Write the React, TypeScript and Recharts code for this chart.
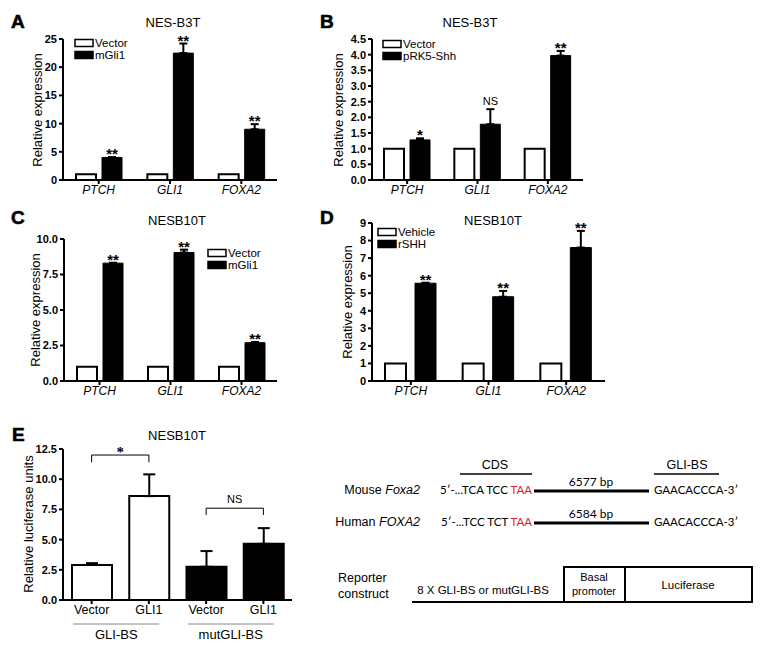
import React from 'react'
import { Bar, BarChart, Cell, ErrorBar, LabelList, ReferenceLine, XAxis, YAxis } from 'recharts'

const FONT = '"Liberation Sans", Arial, Helvetica, sans-serif'
const SEQ_FONT = 'Lato, "Open Sans", sans-serif'

const genes = ['PTCH', 'GLI1', 'FOXA2']

// panel A: NES-B3T, mGli1
const aVector = [1, 1, 1]
const aTreat = [4.0, 22.5, 9.0]
const aErr = [0.05, 1.7, 0.9]
const aSig = ['**', '**', '**']
const aTicks = [0, 5, 10, 15, 20, 25]

// panel B: NES-B3T, pRK5-Shh
const bVector = [1, 1, 1]
const bTreat = [1.28, 1.78, 3.97]
const bErr = [0.05, 0.48, 0.15]
const bSig = ['*', 'NS', '**']
const bTicks = [0, 0.5, 1, 1.5, 2, 2.5, 3, 3.5, 4, 4.5]

// panel C: NESB10T, mGli1
const cVector = [1, 1, 1]
const cTreat = [8.3, 9.05, 2.7]
const cErr = [0.03, 0.2, 0.05]
const cSig = ['**', '**', '**']
const cTicks = [0, 2.5, 5, 7.5, 10]

// panel D: NESB10T, rSHH
const dVehicle = [1, 1, 1]
const dTreat = [5.57, 4.8, 7.6]
const dErr = [0.03, 0.33, 0.95]
const dSig = ['**', '**', '**']
const dTicks = [0, 1, 2, 3, 4, 5, 6, 7, 8, 9]

// panel E: luciferase
const eIds = ['gv', 'gg', 'mv', 'mg']
const eNames = ['Vector', 'GLI1', 'Vector', 'GLI1']
const eGroups = ['GLI-BS', 'GLI-BS', 'mutGLI-BS', 'mutGLI-BS']
const eValues = [2.9, 8.6, 2.75, 4.65]
const eErr = [0.15, 1.8, 1.3, 1.3]
const eFilled = [false, false, true, true]
const eTicks = [0, 2.5, 5, 7.5, 10, 12.5]

const fmt1 = (v: number) => v.toFixed(1)

const axisLine = { stroke: '#000', strokeWidth: 2 }
const yTick = { fill: '#000', fontSize: 11, fontWeight: 'bold', fontFamily: FONT }
const xTick = { fill: '#000', fontSize: 12, fontStyle: 'italic', fontFamily: FONT }

const sigContent = (vals: number[], errs: number[], sigs: string[]) => (props: any) => {
  const vb = props.viewBox ?? props
  const i = props.index
  if (i == null || !sigs[i]) return null
  const top = Math.min(vb.y, vb.y + vb.height)
  const h = Math.abs(vb.height)
  const errPx = vals[i] ? (errs[i] * h) / vals[i] : 0
  const ns = sigs[i] === 'NS'
  return (
    <text
      x={vb.x + vb.width / 2}
      y={top - errPx + (ns ? -4 : 2)}
      textAnchor="middle"
      fontSize={ns ? 11 : 15}
      fontWeight={ns ? 'normal' : 'bold'}
      fontFamily={FONT}
    >
      {sigs[i]}
    </text>
  )
}

type PanelProps = {
  left: number
  top: number
  width: number
  height: number
  margin: { top: number; right: number; bottom: number; left: number }
  yWidth: number
  xHeight: number
  max: number
  ticks: number[]
  fmt?: (v: number) => string
  ctrl: number[]
  treat: number[]
  err: number[]
  sig: string[]
  barSize: number
  barGap: number
}

function ExprPanel(p: PanelProps) {
  const data = genes.map((g, i) => ({ gene: g, ctrl: p.ctrl[i], treat: p.treat[i], errRange: [0, p.err[i]] }))
  return (
    <div style={{ position: 'absolute', left: p.left, top: p.top }}>
      <BarChart width={p.width} height={p.height} data={data} margin={p.margin} barSize={p.barSize} barGap={p.barGap}>
        <XAxis
          dataKey="gene"
          interval={0}
          height={p.xHeight}
          axisLine={axisLine}
          tickLine={axisLine}
          tickSize={4}
          tickMargin={1}
          tick={xTick}
        />
        <YAxis
          type="number"
          domain={[0, p.max]}
          ticks={p.ticks}
          interval={0}
          width={p.yWidth}
          axisLine={axisLine}
          tickLine={axisLine}
          tickSize={4}
          tickMargin={2}
          tick={yTick}
          tickFormatter={p.fmt}
        />
        <Bar dataKey="ctrl" fill="#fff" stroke="#000" strokeWidth={2} isAnimationActive={false} />
        <Bar dataKey="treat" fill="#000" stroke="#000" strokeWidth={1} isAnimationActive={false}>
          <ErrorBar dataKey="errRange" width={4} strokeWidth={2} stroke="#000" direction="y" />
          <LabelList dataKey="treat" content={sigContent(p.treat, p.err, p.sig)} />
        </Bar>
      </BarChart>
    </div>
  )
}

const GroupTick = (props: any) => {
  const { x, y, payload } = props
  const cx = x - 4
  return (
    <g>
      <line x1={cx - 43} x2={cx + 43} y1={y + 4} y2={y + 4} stroke="#888" strokeWidth={1} />
      <text x={cx} y={y + 19} textAnchor="middle" fontSize={13} fontFamily={FONT} fill="#000">
        {payload.value}
      </text>
    </g>
  )
}

function PanelE() {
  const data = eIds.map((id, i) => ({
    id,
    group: eGroups[i],
    value: eValues[i],
    errRange: [0, eErr[i]],
  }))
  return (
    <div style={{ position: 'absolute', left: 0, top: 420 }}>
      <BarChart width={300} height={229} data={data} margin={{ top: 29, right: 8, bottom: 0, left: 0 }} barSize={40}>
        <XAxis
          dataKey="id"
          interval={0}
          height={18}
          axisLine={axisLine}
          tickLine={axisLine}
          tickSize={4}
          tickMargin={1}
          tick={{ fill: '#000', fontSize: 12.5, fontFamily: FONT }}
          tickFormatter={(v: string) => eNames[eIds.indexOf(v)]}
        />
        <XAxis
          xAxisId="grp"
          dataKey="group"
          allowDuplicatedCategory={false}
          interval={0}
          height={31}
          axisLine={false}
          tickLine={false}
          tickSize={0}
          tick={<GroupTick />}
        />
        <YAxis
          type="number"
          domain={[0, 12.5]}
          ticks={eTicks}
          interval={0}
          width={63}
          axisLine={axisLine}
          tickLine={axisLine}
          tickSize={4}
          tickMargin={2}
          tick={yTick}
          tickFormatter={fmt1}
        />
        <Bar dataKey="value" strokeWidth={2} stroke="#000" isAnimationActive={false}>
          {data.map((d, i) => (
            <Cell key={d.id} fill={eFilled[i] ? '#000' : '#fff'} />
          ))}
          <ErrorBar dataKey="errRange" width={6} strokeWidth={2} stroke="#000" direction="y" />
        </Bar>
        <ReferenceLine segment={[{ x: 'gv', y: 12 }, { x: 'gg', y: 12 }]} stroke="#000" strokeWidth={1}
          label={{ value: '*', position: 'top', offset: -2, fontSize: 15, fontWeight: 'bold', fill: '#000' }} />
        <ReferenceLine segment={[{ x: 'gv', y: 12 }, { x: 'gv', y: 11.4 }]} stroke="#000" strokeWidth={1} />
        <ReferenceLine segment={[{ x: 'gg', y: 12 }, { x: 'gg', y: 11.4 }]} stroke="#000" strokeWidth={1} />
        <ReferenceLine segment={[{ x: 'mv', y: 7.6 }, { x: 'mg', y: 7.6 }]} stroke="#000" strokeWidth={1}
          label={{ value: 'NS', position: 'top', offset: 5, fontSize: 11, fill: '#000', fontFamily: FONT }} />
        <ReferenceLine segment={[{ x: 'mv', y: 7.6 }, { x: 'mv', y: 7.04 }]} stroke="#000" strokeWidth={1} />
        <ReferenceLine segment={[{ x: 'mg', y: 7.6 }, { x: 'mg', y: 7.04 }]} stroke="#000" strokeWidth={1} />
      </BarChart>
    </div>
  )
}

const LegendBox = ({ x, y, items }: { x: number; y: number; items: [string, boolean][] }) => (
  <g>
    {items.map(([name, filled], i) => (
      <g key={name}>
        <rect x={x} y={y + i * 12 - 3.5} width={18} height={7} fill={filled ? '#000' : '#fff'} stroke="#000" strokeWidth={1.5} />
        <text x={x + 20} y={y + i * 12 + 4} fontSize={11.5} fontFamily={FONT}>{name}</text>
      </g>
    ))}
  </g>
)

const YTitle = ({ x, y, text }: { x: number; y: number; text: string }) => (
  <text x={x} y={y} transform={`rotate(-90 ${x} ${y})`} textAnchor="middle" dominantBaseline="central" fontSize={13} fontFamily={FONT}>
    {text}
  </text>
)

const Letter = ({ x, y, t }: { x: number; y: number; t: string }) => (
  <text x={x} y={y} fontSize={19} fontWeight="bold" fontFamily={FONT} stroke="#000" strokeWidth={0.6}>{t}</text>
)

const Title = ({ x, y, t }: { x: number; y: number; t: string }) => (
  <text x={x} y={y} textAnchor="middle" fontSize={13} fontFamily={FONT}>{t}</text>
)

function Overlay() {
  return (
    <svg width={767} height={649} style={{ position: 'absolute', left: 0, top: 0, pointerEvents: 'none' }}>
      <Letter x={11} y={28} t="A" />
      <Letter x={320} y={28} t="B" />
      <Letter x={11} y={224} t="C" />
      <Letter x={320} y={224} t="D" />
      <Letter x={12} y={441} t="E" />

      <Title x={173} y={27} t="NES-B3T" />
      <Title x={470} y={27} t="NES-B3T" />
      <Title x={177} y={225} t="NESB10T" />
      <Title x={493} y={225} t="NESB10T" />
      <Title x={177} y={440} t="NESB10T" />

      <YTitle x={37} y={110} text="Relative expression" />
      <YTitle x={338} y={110} text="Relative expression" />
      <YTitle x={35} y={310} text="Relative expression" />
      <YTitle x={347} y={302} text="Relative expression" />
      <YTitle x={28} y={524} text="Relative luciferase units" />

      <LegendBox x={75} y={43} items={[['Vector', false], ['mGli1', true]]} />
      <LegendBox x={383} y={44} items={[['Vector', false], ['pRK5-Shh', true]]} />
      <LegendBox x={208} y={253} items={[['Vector', false], ['mGli1', true]]} />
      <LegendBox x={378} y={232} items={[['Vehicle', false], ['rSHH', true]]} />

      {/* sequence diagram */}
      <g fontFamily={FONT} fontSize={12.5}>
        <text x={495} y={469} textAnchor="middle">CDS</text>
        <line x1={460} x2={532} y1={474} y2={474} stroke="#000" strokeWidth={1.5} />
        <text x={687} y={469} textAnchor="middle">GLI-BS</text>
        <line x1={654} x2={719} y1={474} y2={474} stroke="#000" strokeWidth={1.5} />

        <text x={420} y={494} textAnchor="end">Mouse <tspan fontStyle="italic">Foxa2</tspan></text>
        <text x={420} y={526} textAnchor="end">Human <tspan fontStyle="italic">FOXA2</tspan></text>
      </g>
      <g fontFamily={SEQ_FONT} fontSize={11.5}>
        <text x={532} y={494} textAnchor="end">5′-...TCA TCC <tspan fill="#e0201c">TAA</tspan></text>
        <line x1={534} x2={649} y1={491} y2={491} stroke="#000" strokeWidth={3} />
        <text x={591} y={486} textAnchor="middle" fontSize={12}>6577 bp</text>
        <text x={654} y={494}>GAACACCCA-3′</text>

        <text x={532} y={526} textAnchor="end">5′-...TCC TCT <tspan fill="#e0201c">TAA</tspan></text>
        <line x1={534} x2={649} y1={523} y2={523} stroke="#000" strokeWidth={3} />
        <text x={591} y={518} textAnchor="middle" fontSize={12}>6584 bp</text>
        <text x={654} y={526}>GAACACCCA-3′</text>
      </g>
      <g fontFamily={FONT}>
        <text x={338} y={582} fontSize={12.5}>Reporter</text>
        <text x={338} y={598} fontSize={12.5}>construct</text>
        <line x1={412} x2={564} y1={602} y2={602} stroke="#000" strokeWidth={2} />
        <text x={483} y={594} textAnchor="middle" fontSize={11.5}>8 X GLI-BS or mutGLI-BS</text>
        <rect x={564} y={567} width={61} height={35} fill="none" stroke="#000" strokeWidth={2} />
        <text x={594} y={581} textAnchor="middle" fontSize={11}>Basal</text>
        <text x={594} y={595} textAnchor="middle" fontSize={11}>promoter</text>
        <rect x={625} y={567} width={127} height={35} fill="none" stroke="#000" strokeWidth={2} />
        <text x={688} y={589} textAnchor="middle" fontSize={11.5}>Luciferase</text>
      </g>
    </svg>
  )
}

export default function App() {
  return (
    <div style={{ position: 'absolute', left: 0, top: 0, width: 767, height: 649, background: '#fff', overflow: 'hidden' }}>
      <ExprPanel left={0} top={0} width={290} height={200} margin={{ top: 39, right: 13, bottom: 0, left: 0 }}
        yWidth={63} xHeight={20} max={25} ticks={aTicks}
        ctrl={aVector} treat={aTreat} err={aErr} sig={aSig} barSize={20} barGap={6} />
      <ExprPanel left={310} top={0} width={280} height={200} margin={{ top: 39, right: 7, bottom: 0, left: 0 }}
        yWidth={62} xHeight={20} max={4.5} ticks={bTicks} fmt={fmt1}
        ctrl={bVector} treat={bTreat} err={bErr} sig={bSig} barSize={20} barGap={6} />
      <ExprPanel left={0} top={200} width={290} height={200} margin={{ top: 39, right: 13, bottom: 0, left: 0 }}
        yWidth={64} xHeight={19} max={10} ticks={cTicks} fmt={fmt1}
        ctrl={cVector} treat={cTreat} err={cErr} sig={cSig} barSize={20} barGap={6} />
      <ExprPanel left={310} top={200} width={300} height={200} margin={{ top: 23, right: 5, bottom: 0, left: 0 }}
        yWidth={62} xHeight={19} max={9} ticks={dTicks}
        ctrl={dVehicle} treat={dTreat} err={dErr} sig={dSig} barSize={21} barGap={9} />
      <PanelE />
      <Overlay />
    </div>
  )
}
